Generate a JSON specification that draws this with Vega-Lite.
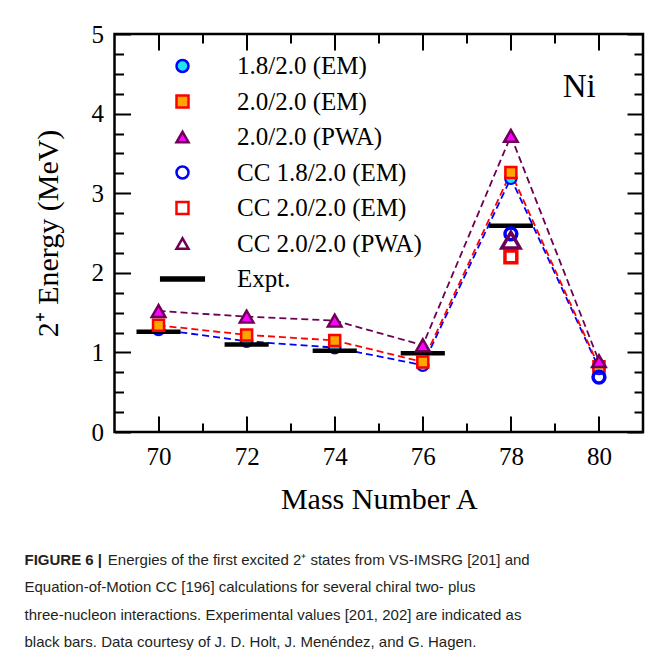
{
  "$schema": "https://vega.github.io/schema/vega-lite/v6.json",
  "width": 528.5,
  "height": 398,
  "autosize": {"type": "none"},
  "padding": {"left": 114.5, "top": 34, "right": 9, "bottom": 218},
  "background": "white",
  "config": {
    "view": {"stroke": "black", "strokeWidth": 2.5},
    "font": "Liberation Serif",
    "axis": {"titleFont": "Liberation Serif", "labelFont": "Liberation Serif"},
    "legend": {"labelFont": "Liberation Serif"}
  },
  "datasets": {
    "pts": [
      {"A": 70, "E": 1.29, "series": "1.8/2.0 (EM)"},
      {"A": 72, "E": 1.14, "series": "1.8/2.0 (EM)"},
      {"A": 74, "E": 1.06, "series": "1.8/2.0 (EM)"},
      {"A": 76, "E": 0.84, "series": "1.8/2.0 (EM)"},
      {"A": 78, "E": 3.19, "series": "1.8/2.0 (EM)"},
      {"A": 80, "E": 0.80, "series": "1.8/2.0 (EM)"},
      {"A": 70, "E": 1.34, "series": "2.0/2.0 (EM)"},
      {"A": 72, "E": 1.22, "series": "2.0/2.0 (EM)"},
      {"A": 74, "E": 1.15, "series": "2.0/2.0 (EM)"},
      {"A": 76, "E": 0.88, "series": "2.0/2.0 (EM)"},
      {"A": 78, "E": 3.26, "series": "2.0/2.0 (EM)"},
      {"A": 80, "E": 0.82, "series": "2.0/2.0 (EM)"},
      {"A": 70, "E": 1.52, "series": "2.0/2.0 (PWA)"},
      {"A": 72, "E": 1.45, "series": "2.0/2.0 (PWA)"},
      {"A": 74, "E": 1.40, "series": "2.0/2.0 (PWA)"},
      {"A": 76, "E": 1.09, "series": "2.0/2.0 (PWA)"},
      {"A": 78, "E": 3.72, "series": "2.0/2.0 (PWA)"},
      {"A": 80, "E": 0.89, "series": "2.0/2.0 (PWA)"},
      {"A": 78, "E": 2.49, "series": "CC 1.8/2.0 (EM)"},
      {"A": 80, "E": 0.69, "series": "CC 1.8/2.0 (EM)"},
      {"A": 78, "E": 2.20, "series": "CC 2.0/2.0 (EM)"},
      {"A": 78, "E": 2.41, "series": "CC 2.0/2.0 (PWA)"},
      {"A": 70, "E": 1.26, "series": "Expt."},
      {"A": 72, "E": 1.10, "series": "Expt."},
      {"A": 74, "E": 1.02, "series": "Expt."},
      {"A": 76, "E": 0.99, "series": "Expt."},
      {"A": 78, "E": 2.59, "series": "Expt."}
    ]
  },
  "data": {"name": "pts"},
  "title": {
    "text": "FIGURE 6 |",
    "subtitle": [
      "\u200b\u00a0\u00a0\u00a0\u00a0\u00a0\u00a0\u00a0\u00a0\u00a0\u00a0\u00a0\u00a0\u00a0\u00a0\u00a0\u00a0\u00a0\u00a0\u00a0\u00a0Energies of the first excited 2⁺ states from VS-IMSRG [201] and",
      "Equation-of-Motion CC [196] calculations for several chiral two- plus",
      "three-nucleon interactions. Experimental values [201, 202] are indicated as",
      "black bars. Data courtesy of J. D. Holt, J. Menéndez, and G. Hagen."
    ],
    "orient": "bottom",
    "anchor": "start",
    "frame": "group",
    "dx": -90,
    "offset": 39,
    "font": "Liberation Sans",
    "fontSize": 15,
    "fontWeight": "bold",
    "color": "#231F20",
    "subtitleFont": "Liberation Sans",
    "subtitleFontSize": 15,
    "subtitleFontWeight": "normal",
    "subtitleColor": "#231F20",
    "subtitleLineHeight": 27.3,
    "subtitlePadding": -15
  },
  "layer": [
    {
      "transform": [{"filter": {"field": "series", "equal": "1.8/2.0 (EM)"}}],
      "mark": {"type": "line", "strokeDash": [7, 4], "strokeWidth": 1.8, "color": "#0000FF"},
      "encoding": {
        "x": {"field": "A", "type": "quantitative", "scale": {"domain": [69, 81], "nice": false, "zero": false},
          "axis": {"orient": "bottom", "values": [70, 72, 74, 76, 78, 80], "ticks": false, "domain": false, "grid": false,
            "labelFont": "Liberation Serif", "labelFontSize": 25, "labelColor": "black", "labelPadding": 12,
            "title": "Mass Number A", "titleFont": "Liberation Serif", "titleFontSize": 30, "titleFontWeight": "normal", "titleColor": "black", "titlePadding": 15}},
        "y": {"field": "E", "type": "quantitative", "scale": {"domain": [0, 5], "nice": false, "zero": false},
          "axis": {"orient": "left", "values": [0, 1, 2, 3, 4, 5], "ticks": false, "domain": false, "grid": false,
            "labelFont": "Liberation Serif", "labelFontSize": 25, "labelColor": "black", "labelPadding": 11,
            "title": "2⁺ Energy (MeV)", "titleFont": "Liberation Serif", "titleFontSize": 30, "titleFontWeight": "normal", "titleColor": "black", "titlePadding": 28}}
      }
    },
    {
      "transform": [{"filter": {"field": "series", "equal": "2.0/2.0 (EM)"}}],
      "mark": {"type": "line", "strokeDash": [7, 4], "strokeWidth": 1.8, "color": "#FF0000"},
      "encoding": {
        "x": {"field": "A", "type": "quantitative", "axis": null},
        "y": {"field": "E", "type": "quantitative", "axis": null}
      }
    },
    {
      "transform": [{"filter": {"field": "series", "equal": "2.0/2.0 (PWA)"}}],
      "mark": {"type": "line", "strokeDash": [7, 4], "strokeWidth": 1.8, "color": "#6B0055"},
      "encoding": {
        "x": {"field": "A", "type": "quantitative", "axis": null},
        "y": {"field": "E", "type": "quantitative", "axis": null}
      }
    },
    {
      "transform": [{"filter": {"field": "series", "equal": "1.8/2.0 (EM)"}}],
      "mark": {"type": "point", "filled": true, "opacity": 1, "size": 135, "strokeWidth": 2},
      "encoding": {
        "x": {"field": "A", "type": "quantitative", "axis": {"orient": "bottom", "values": [70, 72, 74, 76, 78, 80], "labels": false, "title": null, "domain": false, "grid": false, "tickSize": -16, "tickWidth": 2, "tickColor": "black"}},
        "y": {"field": "E", "type": "quantitative", "axis": {"orient": "left", "values": [0, 1, 2, 3, 4, 5], "labels": false, "title": null, "domain": false, "grid": false, "tickSize": -16, "tickWidth": 2, "tickColor": "black"}},
        "shape": {"field": "series", "type": "nominal",
          "scale": {"domain": ["1.8/2.0 (EM)", "2.0/2.0 (EM)", "2.0/2.0 (PWA)", "CC 1.8/2.0 (EM)", "CC 2.0/2.0 (EM)", "CC 2.0/2.0 (PWA)", "Expt."],
            "range": ["circle", "square", "triangle-up", "circle", "square", "triangle-up", "M-3.55,-0.25H3.55V0.25H-3.55Z"]},
          "legend": {
            "orient": "none", "legendX": 55.5, "legendY": 19.5, "title": null, "padding": 0,
            "symbolSize": 144, "symbolStrokeWidth": 2.5, "direction": "vertical",
            "labelFont": "Liberation Serif", "labelFontSize": 25, "labelColor": "black", "labelOffset": 42, "labelLimit": 0, "rowPadding": 9.5
          }},
        "fill": {"field": "series", "type": "nominal",
          "scale": {"domain": ["1.8/2.0 (EM)", "2.0/2.0 (EM)", "2.0/2.0 (PWA)", "CC 1.8/2.0 (EM)", "CC 2.0/2.0 (EM)", "CC 2.0/2.0 (PWA)", "Expt."],
            "range": ["#1EE3F0", "#FFA500", "#FF00FF", "transparent", "transparent", "transparent", "#000000"]},
          "legend": {
            "orient": "none", "legendX": 55.5, "legendY": 19.5, "title": null, "padding": 0,
            "symbolSize": 144, "symbolStrokeWidth": 2.5, "direction": "vertical",
            "labelFont": "Liberation Serif", "labelFontSize": 25, "labelColor": "black", "labelOffset": 42, "labelLimit": 0, "rowPadding": 9.5
          }},
        "stroke": {"field": "series", "type": "nominal",
          "scale": {"domain": ["1.8/2.0 (EM)", "2.0/2.0 (EM)", "2.0/2.0 (PWA)", "CC 1.8/2.0 (EM)", "CC 2.0/2.0 (EM)", "CC 2.0/2.0 (PWA)", "Expt."],
            "range": ["#0000FF", "#FF0000", "#6B0055", "#0000FF", "#FF0000", "#6B0055", "#000000"]},
          "legend": {
            "orient": "none", "legendX": 55.5, "legendY": 19.5, "title": null, "padding": 0,
            "symbolSize": 144, "symbolStrokeWidth": 2.5, "direction": "vertical",
            "labelFont": "Liberation Serif", "labelFontSize": 25, "labelColor": "black", "labelOffset": 42, "labelLimit": 0, "rowPadding": 9.5
          }}
      }
    },
    {
      "transform": [{"filter": {"field": "series", "equal": "Expt."}}],
      "mark": {"type": "point", "filled": true, "opacity": 1, "size": 144, "strokeWidth": 1.5},
      "encoding": {
        "x": {"field": "A", "type": "quantitative", "axis": {"orient": "bottom", "values": [71, 73, 75, 77, 79], "labels": false, "title": null, "domain": false, "grid": false, "tickSize": -9, "tickWidth": 2, "tickColor": "black"}},
        "y": {"field": "E", "type": "quantitative", "axis": {"orient": "left", "values": [0.25, 0.5, 0.75, 1.25, 1.5, 1.75, 2.25, 2.5, 2.75, 3.25, 3.5, 3.75, 4.25, 4.5, 4.75], "labels": false, "title": null, "domain": false, "grid": false, "tickSize": -9, "tickWidth": 2, "tickColor": "black"}},
        "shape": {"field": "series", "type": "nominal"},
        "fill": {"field": "series", "type": "nominal"},
        "stroke": {"field": "series", "type": "nominal"}
      }
    },
    {
      "transform": [{"filter": {"field": "series", "equal": "2.0/2.0 (EM)"}}],
      "mark": {"type": "point", "filled": true, "opacity": 1, "size": 121, "strokeWidth": 2.5},
      "encoding": {
        "x": {"field": "A", "type": "quantitative", "axis": {"orient": "top", "values": [70, 72, 74, 76, 78, 80], "labels": false, "title": null, "domain": false, "grid": false, "tickSize": -16, "tickWidth": 2, "tickColor": "black"}},
        "y": {"field": "E", "type": "quantitative", "axis": {"orient": "right", "values": [0, 1, 2, 3, 4, 5], "labels": false, "title": null, "domain": false, "grid": false, "tickSize": -16, "tickWidth": 2, "tickColor": "black"}},
        "shape": {"field": "series", "type": "nominal"},
        "fill": {"field": "series", "type": "nominal"},
        "stroke": {"field": "series", "type": "nominal"}
      }
    },
    {
      "transform": [{"filter": {"field": "series", "equal": "2.0/2.0 (PWA)"}}],
      "mark": {"type": "point", "filled": true, "opacity": 1, "size": 185, "strokeWidth": 2.5},
      "encoding": {
        "x": {"field": "A", "type": "quantitative", "axis": {"orient": "top", "values": [71, 73, 75, 77, 79], "labels": false, "title": null, "domain": false, "grid": false, "tickSize": -9, "tickWidth": 2, "tickColor": "black"}},
        "y": {"field": "E", "type": "quantitative", "axis": {"orient": "right", "values": [0.25, 0.5, 0.75, 1.25, 1.5, 1.75, 2.25, 2.5, 2.75, 3.25, 3.5, 3.75, 4.25, 4.5, 4.75], "labels": false, "title": null, "domain": false, "grid": false, "tickSize": -9, "tickWidth": 2, "tickColor": "black"}},
        "shape": {"field": "series", "type": "nominal"},
        "fill": {"field": "series", "type": "nominal"},
        "stroke": {"field": "series", "type": "nominal"}
      }
    },
    {
      "transform": [{"filter": {"field": "series", "oneOf": ["CC 1.8/2.0 (EM)", "CC 2.0/2.0 (EM)"]}}],
      "mark": {"type": "point", "filled": true, "opacity": 1, "size": 140, "strokeWidth": 3.5},
      "encoding": {
        "x": {"field": "A", "type": "quantitative", "axis": null},
        "y": {"field": "E", "type": "quantitative", "axis": null},
        "shape": {"field": "series", "type": "nominal"},
        "fill": {"field": "series", "type": "nominal"},
        "stroke": {"field": "series", "type": "nominal"}
      }
    },
    {
      "transform": [{"filter": {"field": "series", "equal": "CC 2.0/2.0 (PWA)"}}],
      "mark": {"type": "point", "filled": true, "opacity": 1, "size": 330, "strokeWidth": 3.5},
      "encoding": {
        "x": {"field": "A", "type": "quantitative", "axis": null},
        "y": {"field": "E", "type": "quantitative", "axis": null},
        "shape": {"field": "series", "type": "nominal"},
        "fill": {"field": "series", "type": "nominal"},
        "stroke": {"field": "series", "type": "nominal"}
      }
    },
    {
      "data": {"values": [{}]},
      "mark": {"type": "text", "text": "Ni", "font": "Liberation Serif", "fontSize": 33, "align": "center", "baseline": "alphabetic", "color": "black"},
      "encoding": {
        "x": {"datum": 79.55, "type": "quantitative", "axis": null},
        "y": {"datum": 4.21, "type": "quantitative", "axis": null}
      }
    }
  ],
  "resolve": {"axis": {"x": "independent", "y": "independent"}}
}
